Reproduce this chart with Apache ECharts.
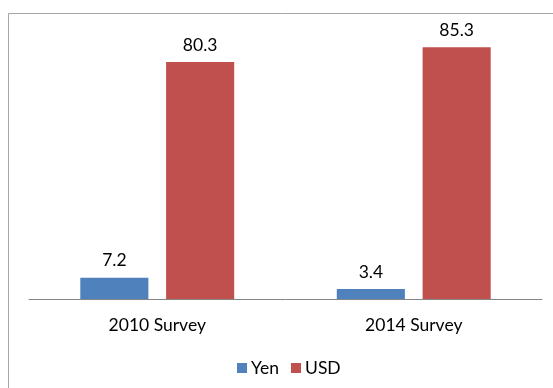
<!DOCTYPE html>
<html>
<head>
<meta charset="utf-8">
<script src="https://cdn.jsdelivr.net/npm/echarts@6/dist/echarts.min.js"></script>
<style>
  html, body { margin: 0; padding: 0; background: #fff; }
  #chart { width: 553px; height: 388px; }
</style>
</head>
<body>
<div id="chart"></div>
<script>
// Survey results by currency
const categories = ['2010 Survey', '2014 Survey'];
const yenValues = [7.2, 3.4];
const usdValues = [80.3, 85.3];

const FONT = 'Lato, "Open Sans", sans-serif';
const FONT_SIZE = 17.5;

const chart = echarts.init(document.getElementById('chart'), null, { renderer: 'canvas' });

const labelStyle = {
  show: true,
  position: 'top',
  distance: 8,
  color: '#000',
  fontSize: FONT_SIZE,
  fontFamily: FONT
};

chart.setOption({
  animation: false,
  backgroundColor: '#fff',
  graphic: [{
    type: 'rect',
    shape: { x: 8.5, y: 13.5, width: 700, height: 500 },
    style: { fill: 'none', stroke: '#a6a6a6', lineWidth: 1 },
    silent: true
  }],
  grid: { left: 29, right: 11, top: 4, bottom: 89, containLabel: false },
  legend: {
    top: 354,
    left: 232,
    itemWidth: 10,
    itemHeight: 10,
    itemGap: 12,
    icon: 'rect',
    textStyle: { fontSize: FONT_SIZE, fontFamily: FONT, color: '#000', padding: [0, 0, 0, -1] },
    data: ['Yen', 'USD']
  },
  xAxis: {
    type: 'category',
    data: categories,
    axisLine: { lineStyle: { color: '#868686', width: 1 } },
    axisTick: { show: false },
    axisLabel: { color: '#000', fontSize: FONT_SIZE, fontFamily: FONT, margin: 17 }
  },
  yAxis: {
    type: 'value',
    min: 0,
    max: 100,
    show: false,
    splitLine: { show: false }
  },
  series: [
    {
      name: 'Yen',
      type: 'bar',
      data: yenValues,
      itemStyle: { color: '#4f81bd' },
      barGap: '26%',
      barCategoryGap: '40%',
      label: labelStyle
    },
    {
      name: 'USD',
      type: 'bar',
      data: usdValues,
      itemStyle: { color: '#c0504d' },
      label: labelStyle
    }
  ]
});
</script>
</body>
</html>
